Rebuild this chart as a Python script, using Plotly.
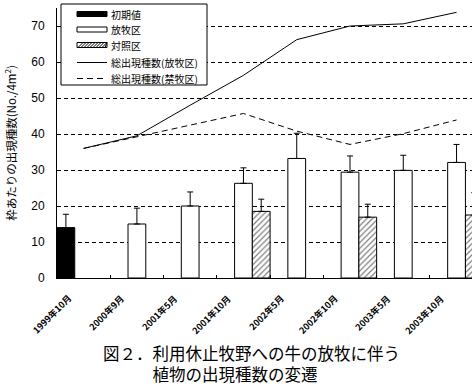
import plotly.graph_objects as go

# ---------------- data ----------------
categories = ["1999年10月", "2000年9月", "2001年5月", "2001年10月",
              "2002年5月", "2002年10月", "2003年5月", "2003年10月"]
initial_vals = [14.0, None, None, None, None, None, None, None]
initial_err = [3.7, 0, 0, 0, 0, 0, 0, 0]
grazed_vals = [None, 15.0, 20.0, 26.3, 33.2, 29.4, 29.9, 32.1]
grazed_err = [0, 4.4, 3.9, 4.3, 7.0, 4.5, 4.2, 5.0]
control_vals = [None, None, None, 18.5, None, 16.9, None, 17.5]
control_err = [0, 0, 0, 3.4, 0, 3.6, 0, 6.2]
total_grazed = [36.0, 39.5, 48.0, 56.3, 66.2, 70.0, 70.6, 73.8]
total_ungrazed = [36.0, 39.3, 42.5, 45.7, 40.8, 37.1, 40.1, 43.9]
y_ticks = [0, 10, 20, 30, 40, 50, 60, 70]

legend_labels = ["初期値", "放牧区", "対照区", "総出現種数(放牧区)", "総出現種数(禁牧区)"]
caption = "図２．利用休止牧野への牛の放牧に伴う<br>\u3000\u3000\u3000植物の出現種数の変遷"
y_title = "枠あたりの出現種数(No./4m<sup>2</sup>)"

FONT = "Noto Sans CJK JP, Liberation Sans, sans-serif"

# plot area in pixels
W, H = 472, 388
L, R_EDGE, T, B = 57, 472, 8, 278


def px(x, y):
    return (x - L) / (R_EDGE - L), (B - y) / (B - T)


def errbar(vals):
    return dict(type="data", array=vals, arrayminus=[0] * len(vals), symmetric=False,
                color="black", thickness=1, width=3)


SLOT = 1 / 3
fig = go.Figure()
fig.add_trace(go.Bar(x=categories, y=initial_vals, name=legend_labels[0],
                     width=SLOT, offset=-0.5,
                     marker=dict(color="black", line=dict(color="black", width=1)),
                     error_y=errbar(initial_err), showlegend=False))
fig.add_trace(go.Bar(x=categories, y=grazed_vals, name=legend_labels[1],
                     width=SLOT, offset=-0.5 + SLOT,
                     marker=dict(color="white", line=dict(color="black", width=1)),
                     error_y=errbar(grazed_err), showlegend=False))
fig.add_trace(go.Bar(x=categories, y=control_vals, name=legend_labels[2],
                     width=SLOT, offset=-0.5 + 2 * SLOT,
                     marker=dict(color="white", line=dict(color="black", width=1),
                                 pattern=dict(shape="/", fgcolor="black", bgcolor="white",
                                              size=4, solidity=0.3)),
                     error_y=errbar(control_err), showlegend=False))
fig.add_trace(go.Scatter(x=categories, y=total_grazed, name=legend_labels[3], mode="lines",
                         line=dict(color="black", width=1), showlegend=False))
fig.add_trace(go.Scatter(x=categories, y=total_ungrazed, name=legend_labels[4], mode="lines",
                         line=dict(color="black", width=1, dash="6px,4px"), showlegend=False))

# ---------------- custom legend ----------------
shapes = []
annots = []
x0, y0 = px(61, 4)
x1, y1 = px(207, 85)
shapes.append(dict(type="rect", xref="paper", yref="paper", x0=x0, y0=y0, x1=x1, y1=y1,
                   line=dict(color="black", width=1), fillcolor="white", layer="above"))
sx0, sx1 = 77, 107
rows = [14, 29.5, 45, 62.5, 78.5]
a, b = px(sx0, rows[0] - 2.5); c, d = px(sx1, rows[0] + 2.5)
shapes.append(dict(type="rect", xref="paper", yref="paper", x0=a, y0=b, x1=c, y1=d,
                   line=dict(color="black", width=1), fillcolor="black", layer="above"))
a, b = px(sx0, rows[1] - 2.5); c, d = px(sx1, rows[1] + 2.5)
shapes.append(dict(type="rect", xref="paper", yref="paper", x0=a, y0=b, x1=c, y1=d,
                   line=dict(color="black", width=1), fillcolor="white", layer="above"))
a, b = px(sx0, rows[2] - 2.5); c, d = px(sx1, rows[2] + 2.5)
shapes.append(dict(type="rect", xref="paper", yref="paper", x0=a, y0=b, x1=c, y1=d,
                   line=dict(color="black", width=1), fillcolor="white", layer="above"))
hx = sx0 + 1
while hx < sx1 - 1:
    p, q = px(hx, rows[2] + 2.5)
    r, s = px(min(hx + 5, sx1), rows[2] - 2.5)
    shapes.append(dict(type="line", xref="paper", yref="paper", x0=p, y0=q, x1=r, y1=s,
                       line=dict(color="black", width=1), layer="above"))
    hx += 3
a, b = px(sx0, rows[3]); c, d = px(sx1, rows[3])
shapes.append(dict(type="line", xref="paper", yref="paper", x0=a, y0=b, x1=c, y1=d,
                   line=dict(color="black", width=1), layer="above"))
a, b = px(sx0, rows[4]); c, d = px(sx1, rows[4])
shapes.append(dict(type="line", xref="paper", yref="paper", x0=a, y0=b, x1=c, y1=d,
                   line=dict(color="black", width=1, dash="6px,4px"), layer="above"))
for lab, ry in zip(legend_labels, rows):
    a, b = px(109, ry)
    annots.append(dict(text=lab, xref="paper", yref="paper", x=a, y=b, xanchor="left",
                       yanchor="middle", showarrow=False,
                       font=dict(family=FONT, size=10, color="black")))

# ---------------- rotated category labels ----------------
for cat in categories:
    annots.append(dict(text="<b>" + cat + "</b>", xref="x", yref="paper", x=cat, y=0,
                       xshift=-7, yshift=-11,
                       textangle=-45, xanchor="right", yanchor="top", showarrow=False,
                       font=dict(family=FONT, size=9, color="black")))

# ---------------- caption ----------------
a, b = px(101, 339)
annots.append(dict(text=caption, xref="paper", yref="paper", x=a, y=b, xanchor="left",
                   yanchor="top", align="left", showarrow=False,
                   font=dict(family=FONT, size=16.5, color="black")))

fig.update_layout(
    width=W, height=H,
    margin=dict(l=L, r=W - R_EDGE, t=T, b=H - B, pad=0, autoexpand=False),
    paper_bgcolor="white", plot_bgcolor="white",
    barmode="overlay",
    font=dict(family=FONT, color="black"),
    shapes=shapes, annotations=annots,
    xaxis=dict(type="category", range=[-0.5, 7.29], showline=True, linecolor="black",
               linewidth=1, ticks="inside", ticklen=3, tickcolor="black",
               tickson="boundaries", showticklabels=False, showgrid=False,
               automargin=False),
    yaxis=dict(range=[0, 75], tickvals=y_ticks, showline=True, linecolor="black",
               linewidth=1, ticks="", showgrid=True, gridcolor="black", gridwidth=1,
               griddash="4px,3px", zeroline=False, ticklabelstandoff=9, automargin=False,
               tickfont=dict(family="Liberation Sans, sans-serif", size=12, color="black"),
               title=dict(text=y_title, standoff=12,
                          font=dict(family=FONT, size=11.5, color="black"))),
)

fig.write_html("out.html", config={"displayModeBar": False},
               post_script="document.body.style.margin='0px';")
